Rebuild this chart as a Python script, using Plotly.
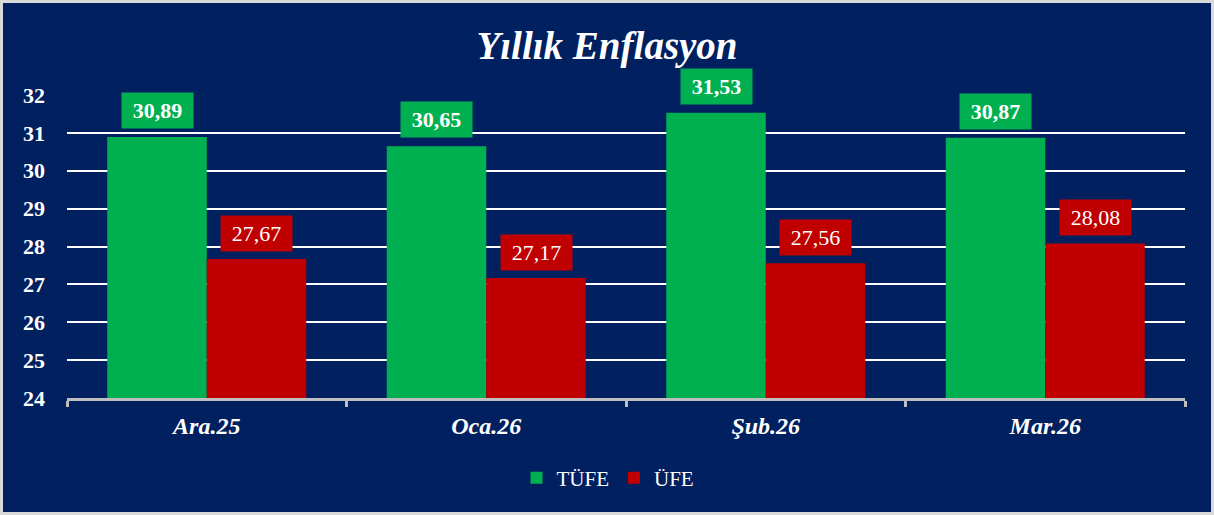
import plotly.graph_objects as go

categories = ["Ara.25", "Oca.26", "Şub.26", "Mar.26"]
tufe = [30.89, 30.65, 31.53, 30.87]
ufe = [27.67, 27.17, 27.56, 28.08]
series_names = ["TÜFE", "ÜFE"]
y_ticks = [24, 25, 26, 27, 28, 29, 30, 31, 32]

GREEN = "#00B050"
RED = "#C00000"
NAVY = "#002060"
FONT = "Liberation Serif"

W, H = 1214, 515
ML, MR, MT, MB = 67, 29, 95, 117
BARGAP = 0.288

fig = go.Figure()
fig.add_trace(go.Bar(name=series_names[0], x=categories, y=tufe,
                     marker=dict(color=GREEN, line=dict(width=0))))
fig.add_trace(go.Bar(name=series_names[1], x=categories, y=ufe,
                     marker=dict(color=RED, line=dict(width=0))))

def fmt(v):
    return f"{v:.2f}".replace(".", ",")

half = (1 - BARGAP) / 4
for i, (a, b) in enumerate(zip(tufe, ufe)):
    fig.add_annotation(x=i - half, y=a, xref="x", yref="y", text=f"<b>{fmt(a)}</b>",
                       showarrow=False, yanchor="bottom", yshift=8, bgcolor=GREEN,
                       width=71, height=35, borderpad=0,
                       font=dict(family=FONT, size=22, color="white"))
    fig.add_annotation(x=i + half, y=b, xref="x", yref="y", text=fmt(b),
                       showarrow=False, yanchor="bottom", yshift=7, bgcolor=RED,
                       width=71, height=35, borderpad=0,
                       font=dict(family=FONT, size=22, color="white"))

pw = W - ML - MR
ph = H - MT - MB
fig.add_shape(type="rect", xref="paper", yref="paper",
              x0=-(ML - 1.5) / pw, x1=1 + (MR - 1.5) / pw,
              y0=-(MB - 1.5) / ph, y1=1 + (MT - 1.5) / ph,
              line=dict(color="#D9D9D9", width=3), layer="above")

fig.update_layout(
    width=W, height=H,
    margin=dict(l=ML, r=MR, t=MT, b=MB),
    paper_bgcolor=NAVY, plot_bgcolor=NAVY,
    barmode="group", bargap=BARGAP, bargroupgap=0,
    title=dict(text="<b><i>Yıllık Enflasyon</i></b>", x=0.5, xanchor="center",
               y=1 - 45 / H, yanchor="middle",
               font=dict(family=FONT, size=39, color="white")),
    font=dict(family=FONT, color="white"),
    legend=dict(orientation="h", x=0.5 - 18 / pw, xanchor="center", y=-(478 - 398) / ph,
                yanchor="middle", font=dict(family=FONT, size=21, color="white"),
                bgcolor="rgba(0,0,0,0)", itemwidth=30, traceorder="normal"),
    xaxis=dict(type="category", tickmode="array", tickvals=categories,
               ticktext=[f"<b><i>{c}</i></b>" for c in categories],
               tickson="boundaries", ticks="outside", ticklen=6, tickwidth=3,
               tickcolor="#BFBFBF", showline=True, linecolor="#BFBFBF", linewidth=3,
               showgrid=False, ticklabelstandoff=4,
               tickfont=dict(family=FONT, size=24, color="white"),
               range=[-0.5, 3.5]),
    yaxis=dict(range=[24, 32], tickmode="array", tickvals=y_ticks,
               ticktext=[f"<b>{t}</b>" for t in y_ticks],
               showgrid=True, gridcolor="white", gridwidth=2, zeroline=False,
               showline=False, ticks="", ticklabelstandoff=21,
               tickfont=dict(family=FONT, size=22, color="white")),
)
fig.update_traces(cliponaxis=False)

fig.write_html("out.html", config={"displayModeBar": False},
               post_script="document.body.style.margin='0px';")
